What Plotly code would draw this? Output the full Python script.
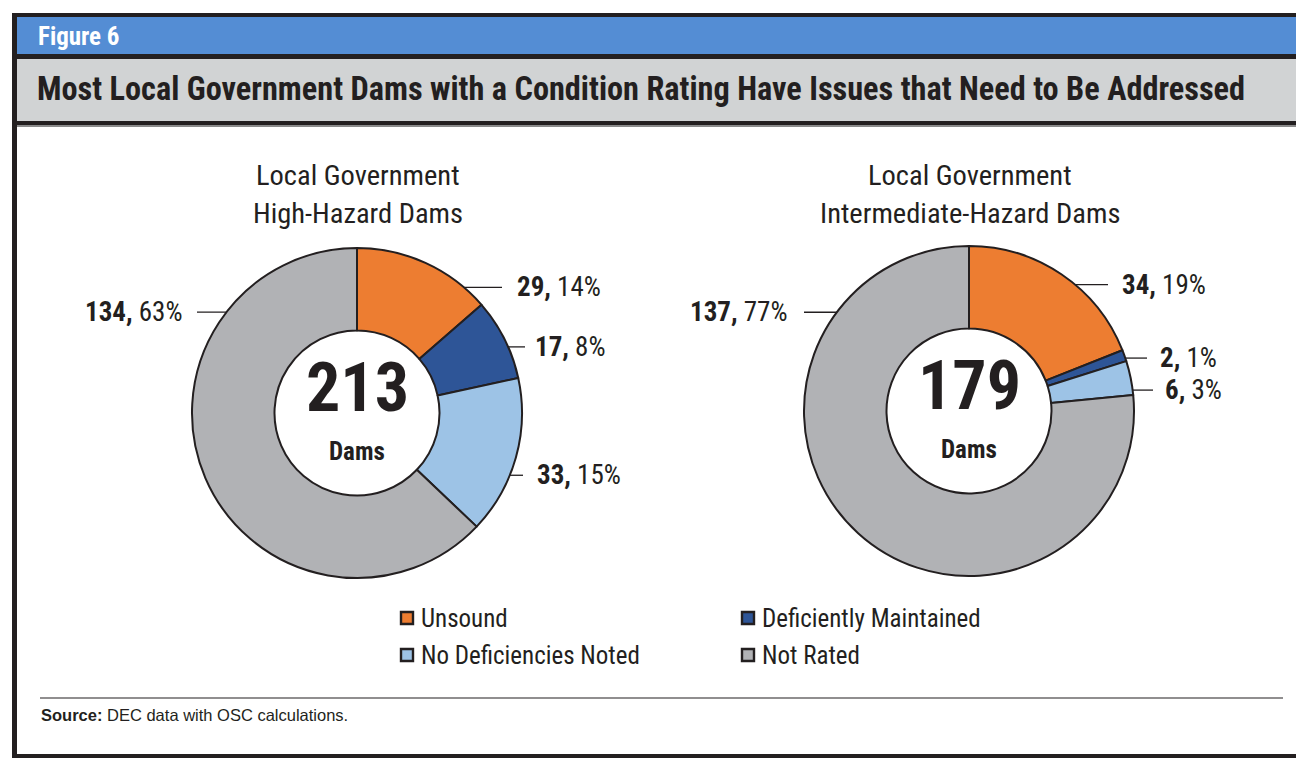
import math
import plotly.graph_objects as go

# ---------------- data ----------------
categories = ["Unsound", "Deficiently Maintained", "No Deficiencies Noted", "Not Rated"]
high_hazard_values = [29, 17, 33, 134]
intermediate_hazard_values = [34, 2, 6, 137]
chart_titles = [["Local Government", "High-Hazard Dams"],
                ["Local Government", "Intermediate-Hazard Dams"]]
figure_label = "Figure 6"
main_title = "Most Local Government Dams with a Condition Rating Have Issues that Need to Be Addressed"
source_text = "<b>Source:</b> DEC data with OSC calculations."

# ---------------- style / layout ----------------
W, H = 1296, 758
colors = ["#ED7D31", "#2E5597", "#9DC3E6", "#B1B2B5"]
DARK = "#231F20"
NARROW = "Liberation Sans Narrow, Arial Narrow, Roboto Condensed, DejaVu Sans Condensed, sans-serif"
SANS = "Liberation Sans, Arial, Helvetica, sans-serif"

R = 165
pies = [
    dict(values=high_hazard_values, cx=357, cy=413,
         # per-slice label placement: (angle deg clockwise from top, radius, line end x, text x, side)
         labels=[(35.8, 155, 502, 515, "r"), (64.4, 153, 525, 533, "r"),
                 (114.7, 149, 523, 535, "r"), (312.3, 150, 197, 185, "l")]),
    dict(values=intermediate_hazard_values, cx=969, cy=411,
         labels=[(34.3, 153, 1108, 1120, "r"), (70.3, 157, 1147, 1158, "r"),
                 (82.2, 154, 1153, 1163, "r"), (310.2, 153, 804, 790, "l")]),
]

fig = go.Figure()
annotations = []
shapes = []

# frame / header
shapes += [
    dict(type="rect", x0=12, x1=1310, y0=13, y1=126, fillcolor=DARK, line_width=0, layer="below"),
    dict(type="rect", x0=17, x1=1310, y0=17, y1=54, fillcolor="#548DD4", line_width=0, layer="below"),
    dict(type="rect", x0=17, x1=1310, y0=59, y1=121, fillcolor="#D1D3D4", line_width=0, layer="below"),
    dict(type="rect", x0=17, x1=1310, y0=125, y1=127, fillcolor="#8A8A8A", line_width=0, layer="below"),
    dict(type="rect", x0=12, x1=17, y0=13, y1=758, fillcolor=DARK, line_width=0, layer="below"),
    dict(type="rect", x0=12, x1=1310, y0=754, y1=758, fillcolor=DARK, line_width=0, layer="below"),
    dict(type="line", x0=40, x1=1283, y0=698, y1=698, line=dict(color=DARK, width=1.2)),
]
annotations.append(dict(x=36, y=36, text=f"<b>{figure_label}</b>", showarrow=False, xanchor="left",
                        yanchor="middle", font=dict(family=NARROW, size=25, color="white")))
annotations.append(dict(x=35, y=89, text=f"<b>{main_title}</b>", showarrow=False, xanchor="left",
                        yanchor="middle", font=dict(family=NARROW, size=32.3, color=DARK)))

for i, p in enumerate(pies):
    vals = p["values"]
    total = sum(vals)
    cx, cy = p["cx"], p["cy"]
    fig.add_trace(go.Pie(
        labels=categories, values=vals, sort=False, direction="clockwise", rotation=0,
        hole=0.5, textinfo="none", hoverinfo="label+value+percent", showlegend=False,
        marker=dict(colors=colors, line=dict(color=DARK, width=2)),
        domain=dict(x=[(cx - R) / W, (cx + R) / W], y=[(H - cy - R) / H, (H - cy + R) / H]),
    ))
    # chart title
    for k, line in enumerate(chart_titles[i]):
        annotations.append(dict(x=cx + 1, y=175 + 38 * k, text=line, showarrow=False,
                                xanchor="center", yanchor="middle",
                                font=dict(family=NARROW, size=28.5, color=DARK)))
    # centre total
    annotations.append(dict(x=cx, y=cy - 25, text=f"<b>{total}</b>", showarrow=False,
                            xanchor="center", yanchor="middle",
                            font=dict(family=NARROW, size=68, color=DARK)))
    annotations.append(dict(x=cx, y=cy + 38, text="<b>Dams</b>", showarrow=False,
                            xanchor="center", yanchor="middle",
                            font=dict(family=NARROW, size=25, color=DARK)))
    # slice labels with leader lines
    dot_x, dot_y = [], []
    for v, (ang, rr, lx, tx, side) in zip(vals, p["labels"]):
        a = math.radians(ang)
        dx = cx + rr * math.sin(a)
        dy = cy - rr * math.cos(a)
        dot_x.append(dx)
        dot_y.append(dy)
        fig.add_trace(go.Scatter(x=[dx, lx], y=[dy, dy], mode="lines",
                                 line=dict(color=DARK, width=1.3), hoverinfo="skip",
                                 showlegend=False))
        pct = round(v / total * 100)
        annotations.append(dict(x=tx, y=dy, text=f"<b>{v},</b> {pct}%", showarrow=False,
                                xanchor="left" if side == "r" else "right", yanchor="middle",
                                font=dict(family=NARROW, size=27, color=DARK)))
    fig.add_trace(go.Scatter(x=dot_x, y=dot_y, mode="markers", hoverinfo="skip", showlegend=False,
                             marker=dict(symbol="circle-open", size=6, color=DARK,
                                         line=dict(width=1.3, color=DARK))))

# legend (manual 2x2 grid)
leg_pos = [(407, 618), (748, 618), (407, 655), (748, 655)]
fig.add_trace(go.Scatter(x=[p[0] for p in leg_pos], y=[p[1] for p in leg_pos], mode="markers",
                         hoverinfo="skip", showlegend=False,
                         marker=dict(symbol="square", size=12, color=colors,
                                     line=dict(color=DARK, width=2.4))))
for cat, (lx, ly) in zip(categories, leg_pos):
    annotations.append(dict(x=lx + 12, y=ly, text=cat, showarrow=False, xanchor="left",
                            yanchor="middle", font=dict(family=NARROW, size=25, color=DARK)))

annotations.append(dict(x=39, y=715, text=source_text, showarrow=False, xanchor="left",
                        yanchor="middle", font=dict(family=SANS, size=16.5, color=DARK)))

fig.update_layout(
    width=W, height=H, autosize=False,
    margin=dict(l=0, r=0, t=0, b=0),
    paper_bgcolor="white", plot_bgcolor="rgba(0,0,0,0)",
    xaxis=dict(range=[0, W], visible=False, fixedrange=True),
    yaxis=dict(range=[H, 0], visible=False, fixedrange=True),
    shapes=shapes, annotations=annotations, showlegend=False,
)

fig.write_html("out.html", config={"displayModeBar": False},
               post_script="document.body.style.margin='0';")
